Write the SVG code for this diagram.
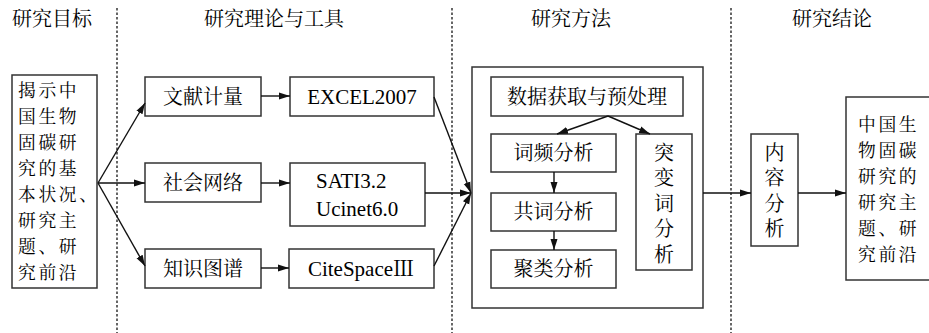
<svg xmlns="http://www.w3.org/2000/svg" width="929" height="333" viewBox="0 0 929 333">
<style>
text{font-family:"Noto Serif CJK SC","Liberation Serif","Noto Sans CJK SC",serif;font-size:20px;fill:#000}
.lat{font-family:"Liberation Serif","Noto Serif CJK SC","Noto Sans CJK SC",serif;font-size:21px}
.ml{font-size:17.8px;letter-spacing:2.6px}
.box{fill:#fff;stroke:#333;stroke-width:1.5}
.c{text-anchor:middle}
.v{writing-mode:vertical-rl;letter-spacing:5.5px}
.dash{stroke:#000;stroke-width:1.2;stroke-dasharray:2.5 2}
.conn line{stroke:#111;stroke-width:1.4;marker-end:url(#ah)}
</style>
<defs>
<marker id="ah" markerUnits="userSpaceOnUse" markerWidth="12" markerHeight="8" refX="11" refY="4" orient="auto">
<path d="M0,0.5 L11,4 L0,7.5 Z" fill="#111"/>
</marker>
</defs>
<rect width="929" height="333" fill="#fff"/>
<g id="dividers">
<line class="dash" x1="117" y1="8" x2="117" y2="333"/>
<line class="dash" x1="452" y1="8" x2="452" y2="333"/>
<line class="dash" x1="731" y1="8" x2="731" y2="333"/>
</g>
<g id="headers">
<text x="52" y="26" class="c">研究目标</text>
<text x="274" y="26" class="c">研究理论与工具</text>
<text x="571" y="26" class="c">研究方法</text>
<text x="832" y="26" class="c">研究结论</text>
</g>
<g id="goal">
<rect class="box" x="12" y="75" width="85" height="213"/>
<text class="ml"><tspan x="18" y="97">揭示中</tspan><tspan x="18" y="123">国生物</tspan><tspan x="18" y="149">固碳研</tspan><tspan x="18" y="175">究的基</tspan><tspan x="18" y="201">本状况、</tspan><tspan x="18" y="227">研究主</tspan><tspan x="18" y="253">题、研</tspan><tspan x="18" y="279">究前沿</tspan></text>
</g>
<g id="wxjl"><rect class="box" x="145" y="77" width="116" height="39"/><text x="203" y="104" class="c">文献计量</text></g>
<g id="shwl"><rect class="box" x="145" y="163" width="116" height="39"/><text x="203" y="190" class="c">社会网络</text></g>
<g id="zstp"><rect class="box" x="145" y="249" width="116" height="39"/><text x="203" y="276" class="c">知识图谱</text></g>
<g id="excel"><rect class="box" x="290" y="77" width="144" height="39"/><text x="362" y="104" class="c lat">EXCEL2007</text></g>
<g id="sati"><rect class="box" x="290" y="163" width="135" height="63"/><text class="lat"><tspan x="316" y="188">SATI3.2</tspan><tspan x="316" y="216">Ucinet6.0</tspan></text></g>
<g id="cite"><rect class="box" x="289" y="249" width="145" height="39"/><text x="361" y="276" class="c lat">CiteSpaceⅢ</text></g>
<g id="method"><rect class="box" x="472" y="67" width="231" height="241"/></g>
<g id="sjhq"><rect class="box" x="491" y="77" width="192" height="39"/><text x="587" y="104" class="c">数据获取与预处理</text></g>
<g id="cpfx"><rect class="box" x="491" y="134" width="125" height="38"/><text x="553.5" y="160" class="c">词频分析</text></g>
<g id="gcfx"><rect class="box" x="491" y="193" width="125" height="38"/><text x="553.5" y="219" class="c">共词分析</text></g>
<g id="jlfx"><rect class="box" x="491" y="250" width="125" height="38"/><text x="553.5" y="276" class="c">聚类分析</text></g>
<g id="tbc"><rect class="box" x="636" y="134" width="56" height="136"/>
<text x="664" y="142" class="v">突变词分析</text></g>
<g id="nrfx"><rect class="box" x="751" y="134" width="47" height="112"/>
<text x="774.5" y="142" class="v">内容分析</text></g>
<g id="concl"><rect class="box" x="846" y="97" width="90" height="183"/>
<text class="ml"><tspan x="858" y="131">中国生</tspan><tspan x="858" y="157">物固碳</tspan><tspan x="858" y="183">研究的</tspan><tspan x="858" y="209">研究主</tspan><tspan x="858" y="235">题、研</tspan><tspan x="858" y="261">究前沿</tspan></text></g>
<g id="connectors" class="conn">
<line x1="98" y1="183" x2="145" y2="103"/>
<line x1="98" y1="183" x2="145" y2="183"/>
<line x1="98" y1="183" x2="145" y2="266"/>
<line x1="261" y1="96" x2="290" y2="96"/>
<line x1="261" y1="183" x2="290" y2="183"/>
<line x1="261" y1="268" x2="289" y2="268"/>
<line x1="434" y1="97" x2="471" y2="193"/>
<line x1="425" y1="193" x2="471" y2="193"/>
<line x1="434" y1="266" x2="471" y2="193"/>
<line x1="608" y1="116" x2="557" y2="134"/>
<line x1="608" y1="116" x2="650" y2="134"/>
<line x1="554" y1="172" x2="554" y2="193"/>
<line x1="554" y1="231" x2="554" y2="250"/>
<line x1="703" y1="193" x2="751" y2="193"/>
<line x1="798" y1="193" x2="846" y2="193"/>
</g>
</svg>
